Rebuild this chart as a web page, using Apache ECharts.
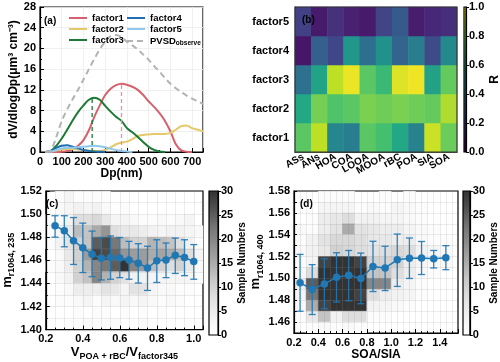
<!DOCTYPE html>
<html>
<head>
<meta charset="utf-8">
<script src="https://cdn.jsdelivr.net/npm/echarts@6/dist/echarts.min.js"></script>
<style>
html, body { margin: 0; padding: 0; background: #fff; }
#main { width: 500px; height: 362px; }
</style>
</head>
<body>
<div id="main"></div>
<script>
// ---- (a) volume size distributions ----
var dp = [25, 50, 75, 100, 125, 150, 175, 200, 225, 250, 275, 300, 325, 350, 375, 400, 425, 450, 475, 500, 525, 550, 575, 600, 625, 650, 675, 700, 725, 750];
var factor1 = [0, 0, 0, 0.05, 0.2, 0.5, 1.2, 2.3, 4.2, 6.8, 9.0, 11.0, 12.2, 12.9, 13.2, 13.0, 12.6, 12.0, 11.0, 9.8, 8.7, 7.5, 6.0, 4.0, 1.5, 0.3, 0.05, 0];
var factor2 = [0, 0.1, 0.3, 0.5, 0.6, 0.6, 0.5, 0.4, 0.3, 0.2, 0.2, 0.4, 0.9, 1.5, 1.8, 2.0, 2.5, 3.1, 3.3, 3.4, 3.5, 3.5, 3.5, 3.7, 4.3, 5.0, 5.1, 4.6, 4.3, 4.0];
var factor3 = [0, 0.2, 1.2, 2.6, 4.3, 6.1, 7.7, 9.0, 10.1, 10.5, 10.1, 8.9, 7.8, 6.8, 6.0, 4.6, 3.8, 2.9, 1.9, 1.0, 0.4, 0.1, 0];
var factor4 = [0, 0.2, 0.8, 1.2, 1.3, 1.0, 0.7, 0.4, 0.2, 0.1, 0.05, 0];
var factor5 = [0, 0.1, 0.4, 0.7, 0.8, 0.8, 0.9, 1.0, 1.1, 1.2, 1.1, 0.9, 0.6, 0.4, 0.2, 0.1, 0];
var pvsd = [0, 0.3, 2.9, 6.0, 8.2, 10.2, 12.0, 14.0, 16.0, 18.0, 19.8, 21.3, 22.4, 22.6, 22.2, 21.3, 20.6, 19.8, 18.8, 17.8, 16.6, 15.5, 14.3, 13.2, 12.3, 11.6, 10.9, 10.3, 9.8, 9.3];
var peak3 = [240, 10.5];
var peak1 = [375, 13.2];

// ---- (b) correlation heatmap ----
var species = ['ASs', 'ANs', 'HOA', 'COA', 'LOOA', 'MOOA', 'rBC', 'POA', 'SIA', 'SOA'];
var factors = ['factor1', 'factor2', 'factor3', 'factor4', 'factor5'];
var rFactor1 = [0.74, 0.90, 0.46, 0.42, 0.74, 0.70, 0.60, 0.44, 0.92, 0.77];
var rFactor2 = [0.60, 0.79, 0.72, 0.74, 0.80, 0.78, 0.80, 0.78, 0.76, 0.88];
var rFactor3 = [0.37, 0.58, 0.90, 0.97, 0.74, 0.67, 0.95, 0.98, 0.57, 0.76];
var rFactor4 = [0.06, 0.30, 0.21, 0.52, 0.36, 0.50, 0.32, 0.42, 0.23, 0.47];
var rFactor5 = [0.19, 0.07, 0.14, 0.09, 0.07, 0.20, 0.28, 0.08, 0.11, 0.13];

// ---- (c) m_r vs V(POA+rBC)/V(factor345) ----
var cX = [0.25, 0.30, 0.35, 0.40, 0.45, 0.50, 0.55, 0.60, 0.65, 0.70, 0.75, 0.80, 0.85, 0.90, 0.95, 1.00];
var cMean = [1.490, 1.4856, 1.477, 1.4708, 1.4653, 1.4617, 1.4625, 1.462, 1.4603, 1.4575, 1.4533, 1.4597, 1.4603, 1.4644, 1.4625, 1.4589];
var cLow = [1.480, 1.4717, 1.4564, 1.4494, 1.4458, 1.443, 1.4436, 1.445, 1.4436, 1.4403, 1.4339, 1.4408, 1.445, 1.4486, 1.4467, 1.4436];
var cHigh = [1.4986, 1.4986, 1.497, 1.4922, 1.4853, 1.4797, 1.4811, 1.4797, 1.4764, 1.4744, 1.4722, 1.4778, 1.475, 1.4792, 1.4778, 1.4736];
var cBinX = [0.20, 0.25, 0.30, 0.35, 0.40, 0.45, 0.50, 0.55, 0.60, 0.65, 0.70, 0.75, 0.80, 0.85, 0.90, 0.95, 1.00];
var cBinY = [1.51, 1.50, 1.49, 1.48, 1.47, 1.46, 1.45, 1.44, 1.43, 1.42, 1.41, 1.40];
var cCounts = [
  [0, 1, 3, 1, 1, 1, 1, 0, 0, 0, 0, 0, 0, 0, 0, 0, 0],
  [0, 2, 3, 4, 3, 4, 2, 0, 1, 0, 0, 0, 0, 0, 0, 0, 0],
  [1, 2, 4, 8, 8, 9, 6, 3, 3, 2, 1, 1, 2, 1, 2, 3, 0],
  [1, 3, 6, 13, 12, 15, 18, 8, 6, 6, 5, 4, 3, 4, 4, 3, 2],
  [1, 4, 7, 10, 12, 25, 27, 22, 13, 10, 10, 14, 13, 12, 8, 4, 1],
  [0, 2, 6, 10, 17, 28, 27, 24, 18, 17, 17, 15, 16, 15, 13, 8, 3],
  [1, 2, 5, 10, 14, 20, 22, 25, 30, 20, 17, 13, 10, 8, 10, 6, 2],
  [0, 2, 4, 10, 12, 20, 14, 10, 7, 4, 4, 3, 3, 3, 3, 3, 1],
  [0, 1, 2, 5, 5, 5, 7, 6, 3, 7, 7, 3, 2, 2, 1, 1, 0],
  [0, 1, 1, 2, 3, 1, 3, 2, 3, 2, 3, 2, 1, 2, 1, 0, 0],
  [0, 0, 0, 1, 0, 1, 1, 0, 1, 0, 1, 0, 1, 0, 0, 0, 0],
  [0, 0, 0, 0, 1, 0, 1, 1, 0, 0, 1, 0, 0, 0, 0, 0, 0]
];

// ---- (d) m_r vs SOA/SIA ----
var dX = [0.25, 0.35, 0.45, 0.55, 0.65, 0.75, 0.85, 0.95, 1.05, 1.15, 1.25, 1.35, 1.45];
var dMean = [1.496, 1.490, 1.495, 1.501, 1.503, 1.500, 1.511, 1.5096, 1.517, 1.5185, 1.5188, 1.518, 1.519];
var dLow = [1.470, 1.467, 1.4724, 1.4784, 1.4796, 1.4769, 1.488, 1.4889, 1.4927, 1.500, 1.5036, 1.5096, 1.508];
var dHigh = [1.522, 1.5126, 1.518, 1.5235, 1.5256, 1.5232, 1.534, 1.5295, 1.5406, 1.537, 1.5338, 1.5256, 1.530];
var dBinX = [0.2, 0.3, 0.4, 0.5, 0.6, 0.7, 0.8, 0.9, 1.0, 1.1, 1.2, 1.3, 1.4];
var dBinY = [1.57, 1.56, 1.55, 1.54, 1.53, 1.52, 1.51, 1.50, 1.49, 1.48, 1.47, 1.46, 1.45];
var dCounts = [
  [0, 0, 1, 1, 1, 0, 0, 1, 0, 1, 0, 0, 0],
  [0, 0, 3, 3, 3, 1, 2, 1, 3, 2, 1, 0, 0],
  [0, 1, 5, 6, 8, 4, 4, 3, 3, 2, 1, 0, 0],
  [2, 1, 5, 7, 15, 7, 6, 5, 5, 3, 2, 1, 0],
  [1, 4, 7, 9, 9, 8, 6, 6, 5, 5, 2, 1, 1],
  [2, 4, 6, 10, 9, 8, 7, 8, 9, 8, 4, 3, 2],
  [1, 3, 28, 30, 30, 28, 10, 10, 10, 5, 3, 2, 2],
  [2, 8, 30, 30, 30, 30, 12, 12, 8, 5, 2, 1, 0],
  [5, 25, 30, 30, 30, 30, 20, 20, 5, 3, 1, 0, 0],
  [3, 22, 30, 30, 30, 28, 8, 5, 4, 3, 1, 0, 0],
  [2, 15, 28, 30, 30, 30, 4, 3, 2, 1, 0, 0, 0],
  [1, 6, 12, 4, 8, 8, 1, 1, 0, 0, 0, 0, 0],
  [0, 1, 2, 1, 2, 1, 0, 0, 0, 0, 0, 0, 0]
];

var viridis = ['#440154', '#482475', '#414487', '#355f8d', '#2a788e', '#21918c', '#22a884', '#44bf70', '#7ad151', '#bddf26', '#fde725'];
var greys = ['#ffffff', '#f3f3f3', '#e1e1e1', '#cacaca', '#ababab', '#8f8f8f', '#757575', '#515151', '#333333'];
var blue = '#1f77b4';
var FONT = 'Liberation Sans';

function pairs(xs, ys) {
  return ys.map(function (y, i) { return [xs[i], y]; });
}
function cells(binX, binY, counts) {
  var out = [];
  counts.forEach(function (row, r) {
    row.forEach(function (v, c) {
      if (v > 0) out.push([binX[c], binY[r], v]);
    });
  });
  return out;
}
function gradient(colors) {
  return new echarts.graphic.LinearGradient(0, 1, 0, 0, colors.map(function (c, i) {
    return { offset: i / (colors.length - 1), color: c };
  }));
}

var labelStyle = { color: '#000', fontFamily: FONT, fontWeight: 'bold', fontSize: 11, margin: 4 };
var nameStyle = {
  color: '#000', fontFamily: FONT, fontWeight: 'bold', fontSize: 12,
  rich: {
    m: { fontFamily: FONT, fontWeight: 'bold', fontSize: 13, lineHeight: 18 },
    s: { fontFamily: FONT, fontWeight: 'bold', fontSize: 9, lineHeight: 8, verticalAlign: 'bottom' }
  }
};

function valueAxis(grid, o) {
  var ax = {
    type: 'value', gridIndex: grid,
    axisLine: { show: true, onZero: false, lineStyle: { color: '#000', width: 1.2 } },
    axisTick: { show: true, inside: true, length: 4, lineStyle: { color: '#000' } },
    minorTick: { show: true, splitNumber: 2, length: 2, lineStyle: { color: '#000' } },
    axisLabel: Object.assign({}, labelStyle),
    splitLine: { show: false },
    nameTextStyle: nameStyle,
    nameLocation: 'middle'
  };
  for (var k in o) ax[k] = o[k];
  return ax;
}
function barAxis(grid) {
  return { type: 'category', gridIndex: grid, data: [''], show: false };
}

function cellRenderer(w, h) {
  return function (params, api) {
    var x = api.value(0), y = api.value(1);
    var p0 = api.coord([x, y + h]);
    var p1 = api.coord([x + w, y]);
    var col = api.visual('color');
    return {
      type: 'rect',
      shape: { x: p0[0], y: p0[1], width: p1[0] - p0[0], height: p1[1] - p0[1] },
      style: { fill: col, stroke: col, lineWidth: 0.5 }
    };
  };
}
function errRenderer(params, api) {
  var x = api.value(0);
  var lo = api.coord([x, api.value(1)]);
  var hi = api.coord([x, api.value(2)]);
  var cap = 3.5;
  var st = { stroke: blue, lineWidth: 1.3, opacity: 0.9 };
  return {
    type: 'group', children: [
      { type: 'line', shape: { x1: lo[0], y1: lo[1], x2: hi[0], y2: hi[1] }, style: st },
      { type: 'line', shape: { x1: lo[0] - cap, y1: lo[1], x2: lo[0] + cap, y2: lo[1] }, style: st },
      { type: 'line', shape: { x1: hi[0] - cap, y1: hi[1], x2: hi[0] + cap, y2: hi[1] }, style: st }
    ]
  };
}
function errData(xs, lo, hi) {
  return xs.map(function (x, i) { return [x, lo[i], hi[i]]; });
}

var heatB = [];
[rFactor1, rFactor2, rFactor3, rFactor4, rFactor5].forEach(function (row, r) {
  row.forEach(function (v, c) { heatB.push([c, r, v]); });
});

var gridBox = { show: true, borderColor: '#000', borderWidth: 1.2, backgroundColor: 'transparent' };
var faint = { show: true, lineStyle: { color: 'rgba(110,110,110,0.22)', width: 0.6 } };
var legendText = { color: '#000', fontFamily: FONT, fontWeight: 'bold', fontSize: 9.5, lineHeight: 10 };

var myChart = echarts.init(document.getElementById('main'));

var option = {
  animation: false,
  grid: [
    Object.assign({ left: 40, top: 7, width: 163, height: 145 }, gridBox),
    Object.assign({ left: 295, top: 7, width: 162, height: 145, z: 4 }, gridBox, { borderColor: '#333' }),
    Object.assign({ left: 464, top: 7, width: 8, height: 145, z: 4 }, gridBox),
    Object.assign({ left: 39, top: 191, width: 164, height: 144 }, gridBox),
    Object.assign({ left: 209, top: 191, width: 9, height: 144, z: 4 }, gridBox),
    Object.assign({ left: 294, top: 191, width: 164, height: 144 }, gridBox),
    Object.assign({ left: 463, top: 191, width: 10, height: 144, z: 4 }, gridBox)
  ],
  xAxis: [
    valueAxis(0, {
      min: 0, max: 750, interval: 100, name: 'Dp(nm)', nameGap: 12,
      axisLabel: Object.assign({}, labelStyle, { showMaxLabel: false }),
      splitLine: { show: true, lineStyle: { color: '#ececec', width: 0.8 } }
    }),
    {
      type: 'category', gridIndex: 1, data: species,
      axisLine: { show: true, lineStyle: { color: '#333', width: 1.2 } },
      axisTick: { show: true, inside: true, alignWithLabel: true, length: 3, lineStyle: { color: '#000' } },
      axisLabel: Object.assign({}, labelStyle, { fontSize: 10, rotate: 30, margin: 4, interval: 0 })
    },
    barAxis(2),
    valueAxis(3, {
      min: 0.2, max: 1.05, interval: 0.2, z: 3, nameGap: 12,
      name: '{m|V}{s|POA + rBC}{m|/V}{s|factor345}',
      minorTick: { show: true, splitNumber: 4, length: 2, lineStyle: { color: '#000' } },
      axisLabel: Object.assign({}, labelStyle, { showMaxLabel: false, formatter: function (v) { return v.toFixed(1); } }),
      splitLine: faint, minorSplitLine: faint
    }),
    barAxis(4),
    valueAxis(5, {
      min: 0.2, max: 1.55, interval: 0.2, z: 3, name: 'SOA/SIA', nameGap: 12,
      minorTick: { show: true, splitNumber: 4, length: 2, lineStyle: { color: '#000' } },
      axisLabel: Object.assign({}, labelStyle, { showMaxLabel: false, formatter: function (v) { return v.toFixed(1); } }),
      splitLine: faint, minorSplitLine: faint
    }),
    barAxis(6)
  ],
  yAxis: [
    valueAxis(0, {
      min: 0, max: 28, interval: 4, nameGap: 17,
      name: 'dV/dlogDp(\u03bcm\u00b3 cm\u207b\u00b3)',
      splitLine: { show: true, lineStyle: { color: '#ececec', width: 0.8 } }
    }),
    {
      type: 'category', gridIndex: 1, data: factors,
      axisLine: { show: true, lineStyle: { color: '#333', width: 1.2 } },
      axisTick: { show: true, inside: true, alignWithLabel: true, length: 3, lineStyle: { color: '#000' } },
      axisLabel: Object.assign({}, labelStyle, { margin: 6 })
    },
    valueAxis(2, {
      position: 'right', min: 0, max: 1, interval: 0.2, name: 'R', nameGap: 18,
      minorTick: { show: false },
      axisTick: { show: true, length: 3, lineStyle: { color: '#000' } },
      axisLabel: Object.assign({}, labelStyle, { margin: 3, formatter: function (v) { return v.toFixed(1); } })
    }),
    valueAxis(3, {
      min: 1.40, max: 1.52, interval: 0.02, z: 3, nameGap: 22,
      name: '{m|m}{s|r1064, 235}',
      axisLabel: Object.assign({}, labelStyle, { formatter: function (v) { return v.toFixed(2); } }),
      splitLine: faint, minorSplitLine: faint
    }),
    valueAxis(4, {
      position: 'right', min: 0, max: 30, interval: 5, name: 'Sample Numbers', nameGap: 14,
      nameTextStyle: Object.assign({}, nameStyle, { fontSize: 10 }),
      minorTick: { show: false },
      axisTick: { show: true, length: 3, lineStyle: { color: '#000' } },
      axisLabel: Object.assign({}, labelStyle, { margin: 3 })
    }),
    valueAxis(5, {
      min: 1.45, max: 1.58, interval: 0.01, z: 3, nameGap: 26,
      name: '{m|m}{s|r1064, 400}',
      minorTick: { show: false },
      axisTick: { show: true, inside: true, length: 3, lineStyle: { color: '#000' } },
      axisLabel: Object.assign({}, labelStyle, {
        formatter: function (v) { return Math.round(v * 100) % 2 === 0 ? v.toFixed(2) : ''; }
      }),
      splitLine: faint
    }),
    valueAxis(6, {
      position: 'right', min: 0, max: 30, interval: 5, name: 'Sample Numbers', nameGap: 14,
      nameTextStyle: Object.assign({}, nameStyle, { fontSize: 10 }),
      minorTick: { show: false },
      axisTick: { show: true, length: 3, lineStyle: { color: '#000' } },
      axisLabel: Object.assign({}, labelStyle, { margin: 3 })
    })
  ],
  legend: [
    {
      data: ['factor1', 'factor2', 'factor3'], orient: 'vertical', left: 63, top: 8,
      itemWidth: 18, itemHeight: 8, itemGap: 1,
      itemStyle: { opacity: 0 },
      textStyle: legendText
    },
    {
      data: ['factor4', 'factor5', 'PVSD'], orient: 'vertical', left: 121, top: 8,
      itemWidth: 18, itemHeight: 8, itemGap: 1,
      itemStyle: { opacity: 0 },
      formatter: function (name) { return name === 'PVSD' ? '{n|PVSD}{s|observe}' : name; },
      textStyle: Object.assign({}, legendText, {
        rich: {
          n: { fontFamily: FONT, fontWeight: 'bold', fontSize: 9.5, lineHeight: 12 },
          s: { fontFamily: FONT, fontWeight: 'bold', fontSize: 6.5, lineHeight: 6, verticalAlign: 'bottom' }
        }
      })
    }
  ],
  visualMap: [
    { show: false, type: 'continuous', seriesIndex: 8, dimension: 2, min: 0, max: 1, inRange: { color: viridis } },
    { show: false, type: 'continuous', seriesIndex: 10, dimension: 2, min: 0, max: 30, inRange: { color: greys } },
    { show: false, type: 'continuous', seriesIndex: 14, dimension: 2, min: 0, max: 30, inRange: { color: greys } }
  ],
  graphic: [
    { type: 'text', left: 44, top: 16, style: { text: '(a)', font: 'bold 10px "Liberation Sans"', fill: '#000' } },
    { type: 'text', left: 302, top: 15, z: 10, style: { text: '(b)', font: 'bold 10px "Liberation Sans"', fill: '#000' } },
    { type: 'text', left: 46, top: 199, z: 10, style: { text: '(c)', font: 'bold 10px "Liberation Sans"', fill: '#000' } },
    { type: 'text', left: 300, top: 199, z: 10, style: { text: '(d)', font: 'bold 10px "Liberation Sans"', fill: '#000' } }
  ],
  series: [
    // 0-7: panel (a)
    { name: 'factor1', type: 'line', xAxisIndex: 0, yAxisIndex: 0, data: pairs(dp, factor1), smooth: 0.3, symbol: 'none', color: '#d6606d', lineStyle: { width: 2 } },
    { name: 'factor2', type: 'line', xAxisIndex: 0, yAxisIndex: 0, data: pairs(dp, factor2), smooth: 0.3, symbol: 'none', color: '#e5c86a', lineStyle: { width: 2 } },
    { name: 'factor3', type: 'line', xAxisIndex: 0, yAxisIndex: 0, data: pairs(dp, factor3), smooth: 0.3, symbol: 'none', color: '#1c7a34', lineStyle: { width: 2 } },
    { name: 'factor4', type: 'line', xAxisIndex: 0, yAxisIndex: 0, data: pairs(dp, factor4), smooth: 0.3, symbol: 'none', color: '#1f6db3', lineStyle: { width: 2 } },
    { name: 'factor5', type: 'line', xAxisIndex: 0, yAxisIndex: 0, data: pairs(dp, factor5), smooth: 0.3, symbol: 'none', color: '#8dc8ee', lineStyle: { width: 2 } },
    { name: 'PVSD', type: 'line', xAxisIndex: 0, yAxisIndex: 0, data: pairs(dp, pvsd), smooth: 0.3, symbol: 'none', color: '#b3b3b3', lineStyle: { width: 2, type: [6, 4] } },
    { name: 'peak3', type: 'line', xAxisIndex: 0, yAxisIndex: 0, data: [[peak3[0], 0], peak3], symbol: 'none', color: '#1c7a34', lineStyle: { width: 1.3, type: [4, 3] } },
    { name: 'peak1', type: 'line', xAxisIndex: 0, yAxisIndex: 0, data: [[peak1[0], 0], peak1], symbol: 'none', color: '#e8909a', lineStyle: { width: 1.3, type: [4, 3] } },
    // 8-9: panel (b)
    { type: 'heatmap', xAxisIndex: 1, yAxisIndex: 1, data: heatB, itemStyle: { borderWidth: 0 }, emphasis: { disabled: true } },
    { type: 'bar', xAxisIndex: 2, yAxisIndex: 2, data: [1], barWidth: '100%', silent: true, itemStyle: { color: gradient(viridis) } },
    // 10-13: panel (c)
    { type: 'custom', xAxisIndex: 3, yAxisIndex: 3, data: cells(cBinX, cBinY, cCounts), renderItem: cellRenderer(0.05, 0.01), z: 1, silent: true, clip: true },
    { type: 'custom', xAxisIndex: 3, yAxisIndex: 3, data: errData(cX, cLow, cHigh), renderItem: errRenderer, z: 5, silent: true },
    { type: 'line', xAxisIndex: 3, yAxisIndex: 3, data: pairs(cX, cMean), symbol: 'circle', symbolSize: 7.5, color: blue, lineStyle: { width: 1.5 }, z: 6 },
    { type: 'bar', xAxisIndex: 4, yAxisIndex: 4, data: [30], barWidth: '100%', silent: true, itemStyle: { color: gradient(greys) } },
    // 14-17: panel (d)
    { type: 'custom', xAxisIndex: 5, yAxisIndex: 5, data: cells(dBinX, dBinY, dCounts), renderItem: cellRenderer(0.1, 0.01), z: 1, silent: true, clip: true },
    { type: 'custom', xAxisIndex: 5, yAxisIndex: 5, data: errData(dX, dLow, dHigh), renderItem: errRenderer, z: 5, silent: true },
    { type: 'line', xAxisIndex: 5, yAxisIndex: 5, data: pairs(dX, dMean), symbol: 'circle', symbolSize: 7.5, color: blue, lineStyle: { width: 1.5 }, z: 6 },
    { type: 'bar', xAxisIndex: 6, yAxisIndex: 6, data: [30], barWidth: '100%', silent: true, itemStyle: { color: gradient(greys) } }
  ]
};

myChart.setOption(option);
</script>
</body>
</html>
